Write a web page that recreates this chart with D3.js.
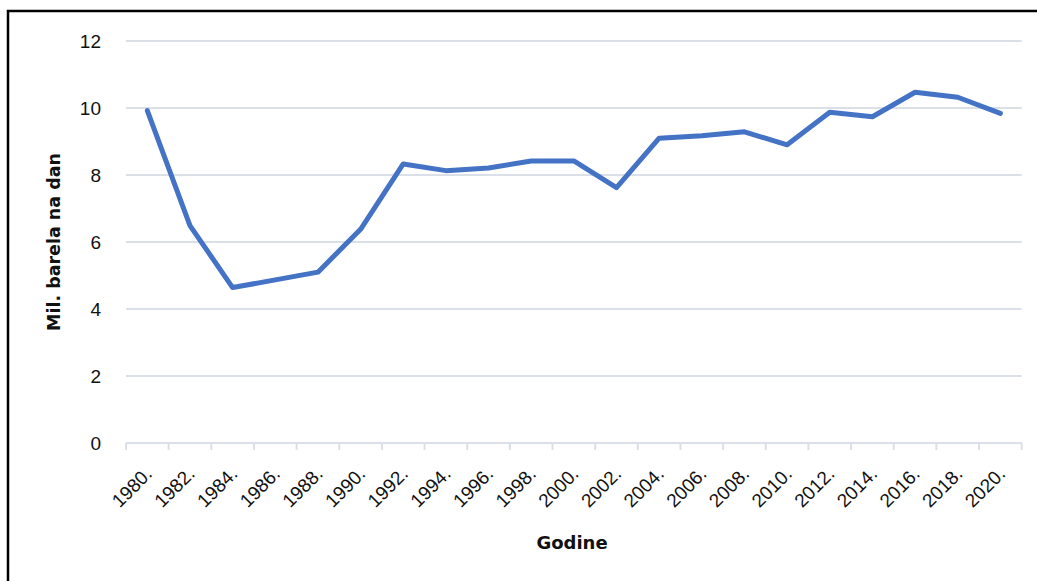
<!DOCTYPE html>
<html>
<head>
<meta charset="utf-8">
<script src="https://cdn.jsdelivr.net/npm/d3@7"></script>
<style>
  body { margin: 0; background: #fff; }
  svg { display: block; }
</style>
</head>
<body>
<div id="canvas"></div>
<script>
'use strict';

/* Godine (x) and production in million barrels per day (y). */
const years = [1980, 1982, 1984, 1986, 1988, 1990, 1992, 1994, 1996, 1998, 2000,
  2002, 2004, 2006, 2008, 2010, 2012, 2014, 2016, 2018, 2020];
const production = [9.92, 6.49, 4.64, 4.87, 5.10, 6.38, 8.33, 8.13, 8.21, 8.42, 8.42,
  7.62, 9.10, 9.17, 9.29, 8.90, 9.87, 9.74, 10.47, 10.32, 9.84];
const yTicks = [0, 2, 4, 6, 8, 10, 12];
const yLabel = 'Mil. barela na dan';
const xLabel = 'Godine';

const canvasWidth = 1037;
const canvasHeight = 581;
const margins = {top: 41, right: 15.3, bottom: 138, left: 126};
const width = canvasWidth - margins.left - margins.right;
const height = canvasHeight - margins.top - margins.bottom;
const labelFont = '"Liberation Sans", Arial, sans-serif';
const titleFont = '"DejaVu Sans", sans-serif';

const svg = d3.select('#canvas').append('svg')
    .attr('width', canvasWidth)
    .attr('height', canvasHeight);

/* Frame: only the top and left edges are visible in the picture. */
svg.append('rect')
    .attr('x', 8)
    .attr('y', 11)
    .attr('width', canvasWidth + 20)
    .attr('height', canvasHeight + 20)
    .attr('fill', 'none')
    .attr('stroke', '#000')
    .attr('stroke-width', 2.5);

const chart = svg.append('g')
    .attr('transform', `translate(${margins.left},${margins.top})`);

const x = d3.scaleBand()
    .domain(years)
    .range([0, width]);

const y = d3.scaleLinear()
    .domain([0, 12])
    .range([height, 0]);

/* Horizontal gridlines. */
chart.append('g')
    .selectAll('line')
    .data(yTicks)
    .join('line')
    .attr('x1', 0)
    .attr('x2', width)
    .attr('y1', d => y(d))
    .attr('y2', d => y(d))
    .attr('stroke', '#dadfe8')
    .attr('stroke-width', 2);

/* Y axis labels. */
const yAxis = chart.append('g')
    .call(d3.axisLeft(y).tickValues(yTicks).tickSize(0).tickPadding(25));
yAxis.select('.domain').remove();
yAxis.selectAll('text')
    .attr('font-family', labelFont)
    .attr('font-size', 19)
    .attr('fill', '#111')
    .attr('dy', '0.35em');

/* X axis with tick marks at the band edges. */
const xAxis = chart.append('g')
    .attr('transform', `translate(0,${height})`);
xAxis.append('line')
    .attr('x1', 0)
    .attr('x2', width)
    .attr('stroke', '#dadfe8')
    .attr('stroke-width', 2);
xAxis.selectAll('line.edge')
    .data(years.concat([null]))
    .join('line')
    .attr('class', 'edge')
    .attr('x1', (d, i) => i * x.step())
    .attr('x2', (d, i) => i * x.step())
    .attr('y1', 0)
    .attr('y2', 7)
    .attr('stroke', '#dadfe8')
    .attr('stroke-width', 2);
xAxis.selectAll('text')
    .data(years)
    .join('text')
    .attr('transform', d =>
      `translate(${x(d) + x.bandwidth() / 2 + 6},${32}) rotate(-45)`)
    .attr('text-anchor', 'end')
    .attr('font-family', labelFont)
    .attr('font-size', 19)
    .attr('fill', '#111')
    .text(d => `${d}.`);

/* The series. */
const line = d3.line()
    .x((d, i) => x(years[i]) + x.bandwidth() / 2)
    .y(d => y(d));

chart.append('path')
    .datum(production)
    .attr('d', line)
    .attr('fill', 'none')
    .attr('stroke', '#4472c4')
    .attr('stroke-width', 5)
    .attr('stroke-linejoin', 'round')
    .attr('stroke-linecap', 'round');

/* Axis titles. */
svg.append('text')
    .attr('transform', 'translate(60,242) rotate(-90)')
    .attr('text-anchor', 'middle')
    .attr('font-family', titleFont)
    .attr('font-weight', 'bold')
    .attr('font-size', 17.5)
    .attr('fill', '#111')
    .text(yLabel);

svg.append('text')
    .attr('x', 572)
    .attr('y', 549)
    .attr('text-anchor', 'middle')
    .attr('font-family', titleFont)
    .attr('font-weight', 'bold')
    .attr('font-size', 18)
    .attr('fill', '#111')
    .text(xLabel);
</script>
</body>
</html>
